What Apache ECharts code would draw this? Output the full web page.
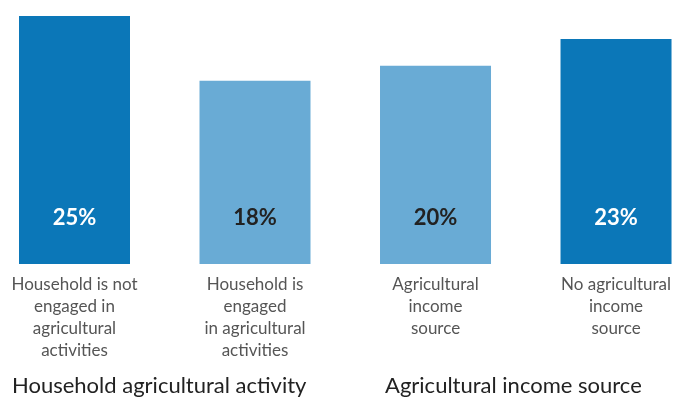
<!DOCTYPE html>
<html><head><meta charset="utf-8">
<script src="https://cdn.jsdelivr.net/npm/echarts@6/dist/echarts.min.js"></script>
<style>html,body{margin:0;padding:0;background:#fff}#c{width:674px;height:398px}</style>
</head><body><div id="c"></div>
<script>
const categories = [
  "Household is not\nengaged in\nagricultural\nactivities",
  "Household is\nengaged\nin agricultural\nactivities",
  "Agricultural\nincome\nsource",
  "No agricultural\nincome\nsource"
];
const values = [24.9, 18.4, 19.9, 22.6];
const barColors = ["#0b77b8", "#69abd5", "#69abd5", "#0b77b8"];
const labelColors = ["#ffffff", "#222222", "#222222", "#ffffff"];
const groupLabels = ["Household agricultural activity", "Agricultural income source"];

const font = "Lato, 'Noto Sans', sans-serif";
const chart = echarts.init(document.getElementById('c'), null, {renderer: 'canvas'});
chart.setOption({
  animation: false,
  grid: {left: 74.5, right: 56, top: 16, bottom: 134, containLabel: false},
  xAxis: {
    type: 'category', data: categories, boundaryGap: false,
    axisLine: {show: false}, axisTick: {show: false},
    axisLabel: {interval: 0, margin: 10, color: '#555', fontSize: 17, lineHeight: 22, fontFamily: font, align: 'center'}
  },
  yAxis: {type: 'value', min: 0, max: 24.9, show: false, splitLine: {show: false}},
  series: [{
    type: 'bar', barWidth: 111,
    data: values.map((v, i) => ({
      value: v,
      itemStyle: {color: barColors[i]},
      label: {color: labelColors[i]}
    })),
    label: {
      show: true, position: 'insideBottom', distance: 35,
      fontSize: 22, fontWeight: 'bold', fontFamily: font,
      formatter: p => Math.round(p.value) + '%'
    }
  }],
  graphic: [
    {type: 'text', left: 12, top: 375, style: {text: groupLabels[0], fontSize: 22, fill: '#222', fontFamily: font}},
    {type: 'text', left: 385, top: 375, style: {text: groupLabels[1], fontSize: 22, fill: '#222', fontFamily: font}}
  ]
});
</script></body></html>
